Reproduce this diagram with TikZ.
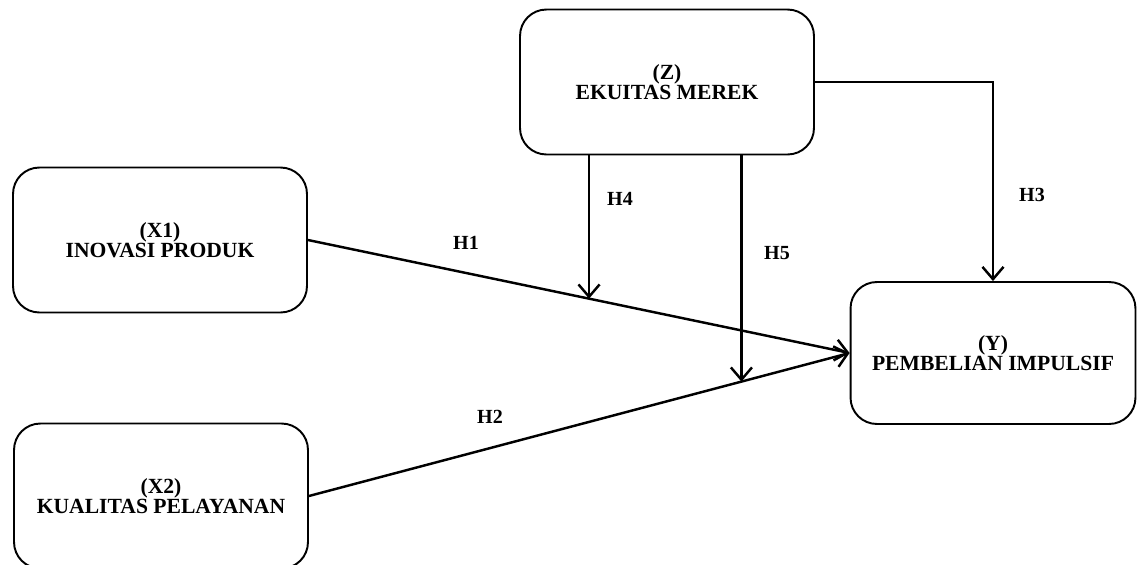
\documentclass[tikz,border=0pt]{standalone}
\usepackage{fontspec}
\setmainfont{Liberation Serif}
\usepackage{tikz}
\usetikzlibrary{arrows.meta,calc}

\begin{document}
\begin{tikzpicture}[x=0.02cm, y=-0.02cm,
  varbox/.style={draw, line width=1.1pt, rounded corners=15pt, minimum width=5.88cm,
    minimum height=2.9cm, align=center, font=\fontsize{12.3}{10.6}\selectfont\bfseries},
  path/.style={line width=1.4pt, -{Straight Barb[length=7pt,width=12pt,line width=1.4pt]}},
  hlabel/.style={font=\fontsize{11.4}{12}\selectfont\bfseries}]
\useasboundingbox (0,0) rectangle (1137,565);

% Variables
\node[varbox] (Z)  at (667,82)  {(Z)\\EKUITAS MEREK};
\node[varbox] (X1) at (160,240) {(X1)\\INOVASI PRODUK};
\node[varbox] (X2) at (161,496) {(X2)\\KUALITAS PELAYANAN};
\node[varbox, minimum width=5.7cm, minimum height=2.84cm] (Y) at (993,353) {(Y)\\PEMBELIAN IMPULSIF};

% Direct effects
\draw[path] (X1.east) -- (Y.west);
\draw[path] (X2.east) -- (Y.west);
\draw[path] (Z.east) -| (Y.north);

% Moderation points on the direct paths
\coordinate (m1) at ($(X1.east)!0.519!(Y.west)$);
\coordinate (m2) at ($(X2.east)!0.80!(Y.west)$);
\draw[path] (Z.south -| m1) -- (m1);
\draw[path] (Z.south -| m2) -- (m2);

% Hypotheses
\node[hlabel] (h1) at (466,243) {H1};
\node[hlabel] (h2) at (490,417) {H2};
\node[hlabel] (h3) at (1032,195) {H3};
\node[hlabel] (h4) at (620,199) {H4};
\node[hlabel] (h5) at (777,253) {H5};
\end{tikzpicture}
\end{document}
